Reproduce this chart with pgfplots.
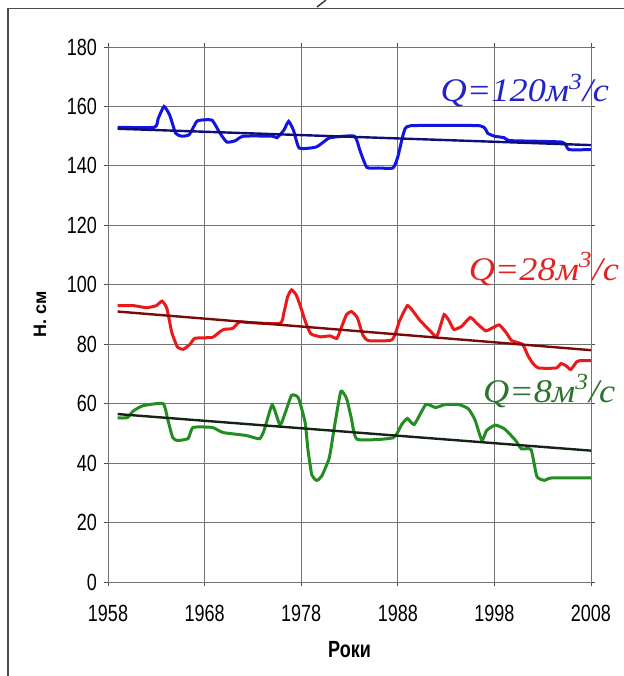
\documentclass[border=0pt]{standalone}
\usepackage{fontspec}
\setmainfont{Liberation Sans}
\newfontfamily\tms{Liberation Serif}
\usepackage{pgfplots}
\pgfplotsset{compat=1.18}

\definecolor{qblue}{RGB}{20,20,225}
\definecolor{tblue}{RGB}{15,15,120}
\definecolor{qred}{RGB}{235,25,25}
\definecolor{tred}{RGB}{120,10,10}
\definecolor{qgreen}{RGB}{35,140,35}
\definecolor{tgreen}{RGB}{20,35,20}
\definecolor{lblue}{RGB}{35,35,200}
\definecolor{lred}{RGB}{225,35,35}
\definecolor{lgreen}{RGB}{45,115,45}

\begin{document}
\begin{tikzpicture}
% 1 px of the reference = 0.5pt, origin at the top-left corner
\useasboundingbox (0pt,0pt) rectangle (312pt,-338pt);
% frame of the figure (cropped)
\draw[black!70, line width=0.6pt] (4pt,-338pt) -- (4pt,-4.25pt) -- (312pt,-4.25pt);
\draw[black!80, line width=0.7pt] (158.5pt,-3.5pt) -- (163pt,0pt);

\begin{axis}[
  at={(54pt,-291pt)}, anchor=south west,
  scale only axis,
  width=241.5pt, height=267.5pt,
  xmin=1958, xmax=2008,
  ymin=0, ymax=180,
  xtick={1958,1968,1978,1988,1998,2008},
  ytick={0,20,...,180},
  /pgf/number format/set thousands separator={},
  /pgf/number format/assume math mode=true,
  tick align=outside,
  major tick length=2pt,
  tick style={black!70, line width=0.4pt},
  grid=major,
  grid style={black!55, line width=0.4pt},
  axis line style={black!55, line width=0.4pt},
  ticklabel style={font=\fontsize{9}{10}\selectfont, yscale=1.3},
  xticklabel style={yshift=-4pt},
  xlabel={\bfseries Роки},
  ylabel={\bfseries Н. см},
  label style={font=\fontsize{9}{10}\selectfont},
  xlabel style={at={(axis description cs:0.5,0)}, anchor=center, yshift=-34pt, yscale=1.3},
  ylabel style={at={(axis description cs:0,0.5)}, anchor=center, yshift=34pt},
  clip=false,
]
% Q = 120 m3/s
\addplot[qblue, line width=1.5pt, smooth, tension=0.3] coordinates {
  (1959,153) (1962.8,153) (1963.2,156) (1963.8,160) (1964.4,157) (1965.0,151)
  (1965.6,150) (1966.4,150.5) (1967.2,155) (1968,155.5) (1968.8,155.3)
  (1969.6,151) (1970.3,148) (1971.2,148.5) (1972,150) (1975,150) (1975.5,149.5)
  (1976.2,152) (1976.7,155) (1977.2,152) (1977.8,146) (1979.5,146.3)
  (1980.3,148) (1981,149.5) (1983.5,150) (1984.1,145) (1984.8,139.5)
  (1986,139.3) (1987.5,139.3) (1988,143) (1988.6,151) (1989.3,153.5)
  (1996.5,153.5) (1997.3,151) (1998,150) (1999,149.5) (1999.7,148.5)
  (2005,148) (2005.7,145.5) (2008,145.5)};
\addplot[tblue, line width=1.2pt] coordinates {(1959,152.5) (2008,147)};
% Q = 28 m3/s
\addplot[qred, line width=1.5pt, smooth, tension=0.3] coordinates {
  (1959,93) (1960.6,93) (1962,92.3) (1963,93) (1963.6,94.5) (1964.1,92)
  (1964.6,84) (1965.2,79) (1965.8,78.3) (1966.5,80) (1967,82) (1968.8,82.3)
  (1969.5,84) (1970,85) (1970.9,85.3) (1971.6,87.5) (1972.5,87.3) (1975.8,87)
  (1976.2,90.5) (1976.6,96) (1977,98.3) (1977.5,96.5) (1978,92) (1978.5,87)
  (1979,83.5) (1980,82.5) (1981,82.8) (1981.7,82) (1982.2,86) (1982.7,90)
  (1983.2,91) (1983.8,89) (1984.4,83) (1985,81.2) (1987.4,81.5) (1988.2,88)
  (1989,93) (1989.6,91) (1990.3,88) (1991.2,85) (1992,82.5) (1992.4,86)
  (1992.8,90) (1993.3,88) (1993.8,85) (1994.6,86) (1995.5,89) (1996.2,87)
  (1997.1,84.5) (1997.8,85.5) (1998.5,86.5) (1999.2,84) (1999.8,81.2)
  (2000.9,80) (2001.5,76) (2002,73.5) (2002.6,72) (2004.4,72) (2004.9,73.5)
  (2005.4,72.8) (2005.9,71.5) (2006.5,74) (2006.9,74.5) (2008,74.5)};
\addplot[tred, line width=1.2pt] coordinates {(1959,91) (2008,78)};
% Q = 8 m3/s
\addplot[qgreen, line width=1.5pt, smooth, tension=0.3] coordinates {
  (1959,55.2) (1960,55.3) (1960.6,57.5) (1961.6,59.3) (1963.7,60) (1964.2,54.5)
  (1964.7,48.6) (1965.2,47.6) (1966.3,48.3) (1966.8,52) (1968.8,52)
  (1969.9,50.3) (1972.3,49.3) (1973.7,48.2) (1974.2,51.4) (1975,59.6)
  (1975.8,52.8) (1976.3,56.5) (1977,62.8) (1977.7,62) (1978.4,53.8)
  (1978.7,44.5) (1979.1,36) (1979.6,34.2) (1980.1,35.5) (1980.9,41.7)
  (1981.4,51.4) (1982.1,64.1) (1982.7,61.7) (1983.2,55) (1983.8,48)
  (1987.5,48.5) (1988.4,53) (1989,55) (1989.7,53) (1990.9,59.7) (1991.9,58.7)
  (1992.9,59.7) (1994.3,59.7) (1995.3,58.3) (1996,54.5) (1996.7,47.6)
  (1997.2,51) (1998.1,52.8) (1999.1,51.4) (2000.2,47.6) (2000.8,44.8)
  (2001.8,44.5) (2002.4,35.5) (2003.2,34.2) (2003.9,35) (2008,35)};
\addplot[tgreen, line width=1.2pt] coordinates {(1959,56.5) (2008,44.2)};

\node[anchor=base west, inner sep=0pt, lblue, xscale=1.1, font=\tms\itshape\fontsize{16.5}{16.5}\selectfont]
  at (axis cs:1992.4,161.5) {Q=120м\textsuperscript{3}/с};
\node[anchor=base west, inner sep=0pt, lred, xscale=1.1, font=\tms\itshape\fontsize{16.5}{16.5}\selectfont]
  at (axis cs:1995.3,101.5) {Q=28м\textsuperscript{3}/с};
\node[anchor=base west, inner sep=0pt, lgreen, xscale=1.1, font=\tms\itshape\fontsize{16.5}{16.5}\selectfont]
  at (axis cs:1996.8,60.5) {Q=8м\textsuperscript{3}/с};
\end{axis}
\end{tikzpicture}
\end{document}
